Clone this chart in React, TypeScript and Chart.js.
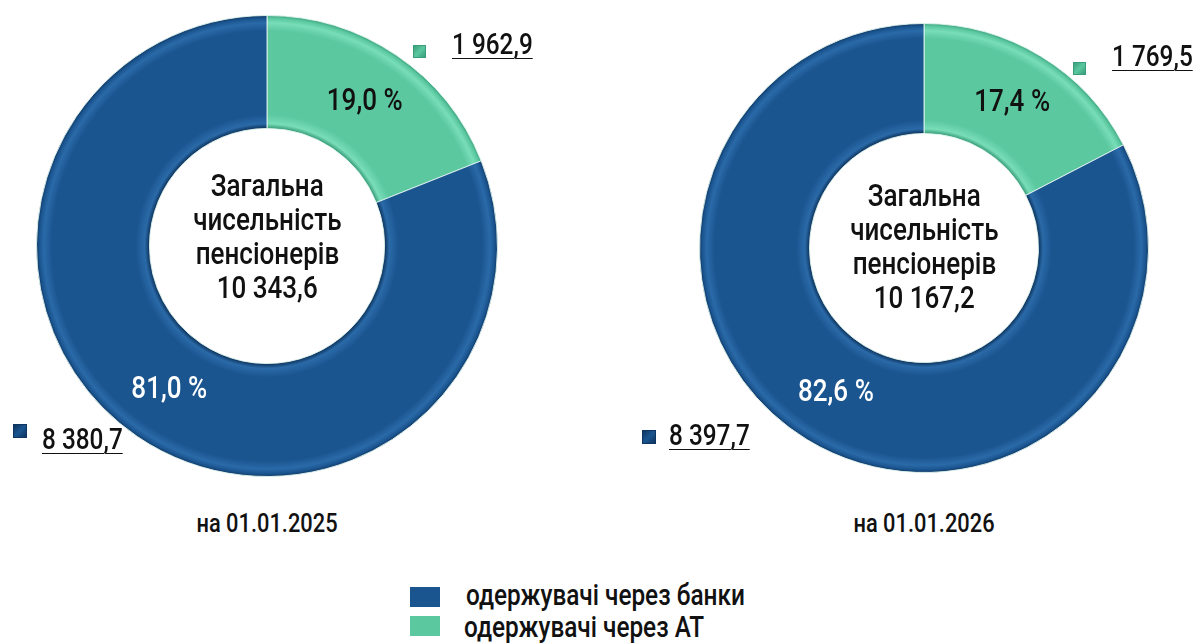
import React, { useEffect, useRef } from "react";
import { Chart, registerables } from "chart.js";

Chart.register(...registerables);

// ---- data ----
const categories = ["одержувачі через банки", "одержувачі через АТ"];
const dates = ["на 01.01.2025", "на 01.01.2026"];
const viaBanks = [8380.7, 8397.7];
const viaAT = [1962.9, 1769.5];
const centerTitle = ["Загальна", "чисельність", "пенсіонерів"];

const FONT = 'Roboto, "Noto Sans", sans-serif';
const SX = 0.84;
const BLUE = "#1B5590";
const BLUE_DARK = "#0E355F";
const BLUE_LIGHT = "#2A6AA8";
const GREEN = "#5BC8A0";
const GREEN_DARK = "#3A9E7B";
const GREEN_LIGHT = "#78DDB8";

const fmt = (v: number) => {
  const [i, d] = v.toFixed(1).split(".");
  return i.replace(/\B(?=(\d{3})+(?!\d))/g, " ") + "," + d;
};
const pct = (v: number, t: number) => ((v / t) * 100).toFixed(1).replace(".", ",") + " %";

type Layout = {
  cx: number; cy: number; r: number;
  centerY: number;
  atMarker: [number, number]; atText: [number, number];
  bankMarker: [number, number]; bankText: [number, number];
  dateY: number;
};

const layouts: Layout[] = [
  { cx: 267, cy: 246, r: 230, centerY: 237, atMarker: [413, 45], atText: [452, 27], bankMarker: [13, 424], bankText: [42, 422], dateY: 523 },
  { cx: 924, cy: 248, r: 224, centerY: 247, atMarker: [1073, 62], atText: [1112, 39], bankMarker: [642, 430], bankText: [669, 418], dateY: 523 },
];

const labelPlugin = {
  id: "pctLabels",
  afterDatasetsDraw(chart: any) {
    const meta = chart.getDatasetMeta(0);
    const ds = chart.data.datasets[0];
    const vals: number[] = ds.data;
    const total = vals.reduce((a, b) => a + b, 0);
    const ctx = chart.ctx;
    meta.data.forEach((arc: any, i: number) => {
      const { x, y, startAngle, endAngle, innerRadius, outerRadius } = arc.getProps(
        ["x", "y", "startAngle", "endAngle", "innerRadius", "outerRadius"], true);
      const mid = (startAngle + endAngle) / 2;
      const rr = (innerRadius + outerRadius) / 2;
      ctx.save();
      ctx.translate(x + Math.cos(mid) * rr, y + Math.sin(mid) * rr);
      ctx.scale(SX, 1);
      ctx.font = `500 31px ${FONT}`;
      ctx.textAlign = "center";
      ctx.textBaseline = "middle";
      ctx.fillStyle = ds.labelColors[i];
      ctx.fillText(pct(vals[i], total), 0, 0);
      ctx.restore();
    });
  },
};

const palette = [
  [GREEN, GREEN_DARK, GREEN_LIGHT],
  [BLUE, BLUE_DARK, BLUE_LIGHT],
];

function sliceFill(c: any) {
  const [base, dark, light] = palette[c.dataIndex] || palette[1];
  const chart = c.chart;
  const a = chart.chartArea;
  if (!a) return base;
  const cx = (a.left + a.right) / 2;
  const cy = (a.top + a.bottom) / 2;
  const outer = Math.min(a.right - a.left, a.bottom - a.top) / 2;
  const inner = outer * 0.51;
  const g = chart.ctx.createRadialGradient(cx, cy, inner, cx, cy, outer);
  g.addColorStop(0, dark);
  g.addColorStop(0.04, light);
  g.addColorStop(0.12, base);
  g.addColorStop(0.86, base);
  g.addColorStop(0.93, light);
  g.addColorStop(0.97, base);
  g.addColorStop(1, dark);
  return g;
}

function Donut({ idx }: { idx: number }) {
  const ref = useRef<HTMLCanvasElement>(null);
  const L = layouts[idx];
  const size = 2 * L.r + 2;
  useEffect(() => {
    const chart = new Chart(ref.current!, {
      type: "doughnut",
      data: {
        labels: [categories[1], categories[0]],
        datasets: [
          {
            data: [viaAT[idx], viaBanks[idx]],
            backgroundColor: sliceFill,
            borderColor: "rgba(225,245,238,0.9)",
            borderWidth: 1,
            labelColors: ["#111111", "#ffffff"],
          } as any,
        ],
      },
      options: {
        responsive: false,
        maintainAspectRatio: false,
        animation: false,
        events: [],
        cutout: "51%",
        layout: { padding: 0 },
        plugins: { legend: { display: false }, tooltip: { enabled: false } },
      },
      plugins: [labelPlugin],
    });
    return () => chart.destroy();
  }, [idx]);
  return (
    <canvas
      ref={ref}
      width={size}
      height={size}
      style={{ position: "absolute", left: L.cx - size / 2, top: L.cy - size / 2, width: size, height: size }}
    />
  );
}

const T = ({ children, origin = "left", style = {} }: any) => (
  <span style={{ display: "inline-block", transform: `scaleX(${SX})`, transformOrigin: origin, whiteSpace: "nowrap", ...style }}>
    {children}
  </span>
);

const marker = (color: string, dark: string, x: number, y: number, s: number) => (
  <div
    style={{
      position: "absolute", left: x, top: y, width: s, height: s, boxSizing: "border-box",
      background: `linear-gradient(135deg, ${dark} 0%, ${color} 50%, ${dark} 100%)`,
      border: `1px solid ${dark}`,
    }}
  />
);

const ul = { textDecoration: "underline", textDecorationThickness: "1px", textUnderlineOffset: "4px" };

export default function App() {
  return (
    <div style={{ position: "fixed", left: 0, top: 0, width: 1198, height: 644, background: "#fff", overflow: "hidden", fontFamily: FONT, fontWeight: 500, color: "#111" }}>
      {layouts.map((L, i) => {
        const total = viaAT[i] + viaBanks[i];
        return (
          <React.Fragment key={i}>
            <Donut idx={i} />
            <div style={{ position: "absolute", left: L.cx - 130, width: 260, top: L.centerY - 68, textAlign: "center", fontSize: 31, lineHeight: "34px" }}>
              {centerTitle.map((t) => <div key={t}><T origin="center">{t}</T></div>)}
              <div><T origin="center">{fmt(total)}</T></div>
            </div>
            {marker(GREEN, GREEN_DARK, L.atMarker[0], L.atMarker[1], 13)}
            <div style={{ position: "absolute", left: L.atText[0], top: L.atText[1], fontSize: 29, lineHeight: "34px" }}>
              <T style={ul}>{fmt(viaAT[i])}</T>
            </div>
            {marker(BLUE, BLUE_DARK, L.bankMarker[0], L.bankMarker[1], 14)}
            <div style={{ position: "absolute", left: L.bankText[0], top: L.bankText[1], fontSize: 29, lineHeight: "34px" }}>
              <T style={ul}>{fmt(viaBanks[i])}</T>
            </div>
            <div style={{ position: "absolute", left: L.cx - 150, width: 300, top: L.dateY - 16, textAlign: "center", fontSize: 26, lineHeight: "32px" }}>
              <T origin="center">{dates[i]}</T>
            </div>
          </React.Fragment>
        );
      })}
      <div style={{ position: "absolute", left: 410, top: 587, width: 30, height: 20, background: BLUE }} />
      <div style={{ position: "absolute", left: 466, top: 579, fontSize: 29, lineHeight: "32px" }}><T>{categories[0]}</T></div>
      <div style={{ position: "absolute", left: 410, top: 616, width: 30, height: 20, background: GREEN }} />
      <div style={{ position: "absolute", left: 464, top: 611, fontSize: 29, lineHeight: "32px" }}><T>{categories[1]}</T></div>
    </div>
  );
}
